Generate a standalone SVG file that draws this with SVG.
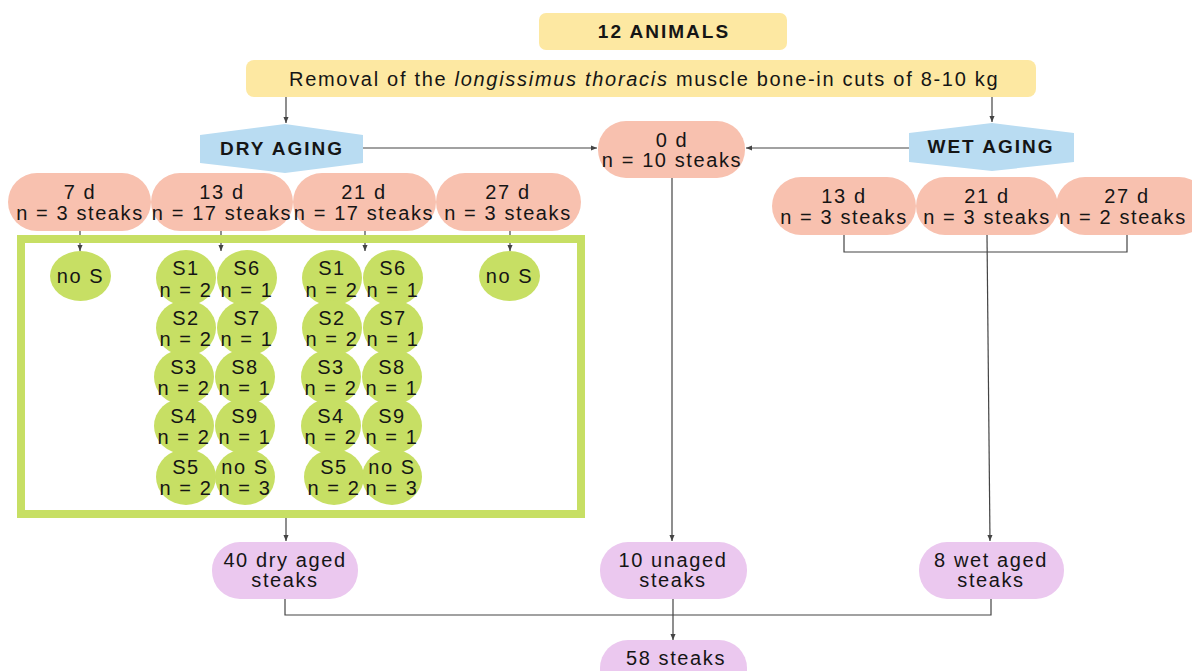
<svg xmlns="http://www.w3.org/2000/svg" width="1192" height="671" viewBox="0 0 1192 671">
<defs>
<marker id="ah" viewBox="0 0 8 8" refX="7" refY="4" markerWidth="7" markerHeight="7" markerUnits="userSpaceOnUse" orient="auto">
<path d="M0,1 L7,4 L0,7 z" fill="#444"/>
</marker>
<style>
text{font-family:"Liberation Sans",Arial,sans-serif;font-size:20px;letter-spacing:1.6px;fill:#151515;text-anchor:middle}
.b{font-weight:bold;letter-spacing:2px;font-size:19px}
.y{fill:#fde8a2}
.p{fill:#f8c1af}
.bl{fill:#b9dcf2}
.g{fill:#c7df64}
.v{fill:#ebc8ef}
.c{fill:none;stroke:#444;stroke-width:1.2}
.a{marker-end:url(#ah)}
</style>
</defs>
<rect width="1192" height="671" fill="#ffffff"/>

<g id="connectors">
<line class="c a" x1="286" y1="96" x2="286" y2="123"/>
<line class="c a" x1="992" y1="96" x2="992" y2="122"/>
<line class="c a" x1="363" y1="148" x2="597" y2="148"/>
<line class="c a" x1="909" y1="148" x2="746" y2="148"/>
<line class="c a" x1="80" y1="231" x2="80" y2="251"/>
<line class="c a" x1="221" y1="231" x2="221" y2="251"/>
<line class="c a" x1="365" y1="231" x2="365" y2="251"/>
<line class="c a" x1="510" y1="231" x2="510" y2="251"/>
<line class="c a" x1="672" y1="178" x2="672" y2="541"/>
<polyline class="c" points="844,235 844,252 1127,252 1127,235"/>
<line class="c a" x1="987" y1="235" x2="990" y2="541"/>
<line class="c a" x1="286" y1="518" x2="286" y2="541"/>
<polyline class="c" points="285,599 285,615 991,615 991,599"/>
<line class="c a" x1="673" y1="599" x2="673" y2="640"/>
</g>

<g id="animals">
<rect class="y" x="539" y="13" width="248" height="37" rx="7"/>
<text class="b" x="664" y="38">12 ANIMALS</text>
</g>

<g id="removal">
<rect class="y" x="246" y="60" width="790" height="37" rx="8"/>
<text x="289" y="86" style="text-anchor:start;letter-spacing:1.7px">Removal of the <tspan font-style="italic">longissimus thoracis</tspan> muscle bone-in cuts of 8-10 kg</text>
</g>

<g id="dry-aging">
<polygon class="bl" points="200,135 285,124 363,135 363,163 285,173 200,163"/>
<text class="b" x="282" y="155">DRY AGING</text>
</g>

<g id="wet-aging">
<polygon class="bl" points="909,133 992,123 1074,133 1074,162 992,171 909,162"/>
<text class="b" x="991" y="153">WET AGING</text>
</g>

<g id="d0">
<rect class="p" x="598" y="121" width="147" height="57" rx="28"/>
<text x="672" y="147">0 d</text>
<text x="672" y="167">n = 10 steaks</text>
</g>

<g id="dry-7d">
<rect class="p" x="8" y="173" width="143" height="58" rx="29"/>
<text x="80" y="199">7 d</text>
<text x="80" y="220">n = 3 steaks</text>
</g>
<g id="dry-13d">
<rect class="p" x="151" y="173" width="142" height="58" rx="29"/>
<text x="222" y="199">13 d</text>
<text x="222" y="220">n = 17 steaks</text>
</g>
<g id="dry-21d">
<rect class="p" x="293" y="173" width="143" height="58" rx="29"/>
<text x="364" y="199">21 d</text>
<text x="364" y="220">n = 17 steaks</text>
</g>
<g id="dry-27d">
<rect class="p" x="436" y="173" width="145" height="58" rx="29"/>
<text x="508" y="199">27 d</text>
<text x="508" y="220">n = 3 steaks</text>
</g>

<g id="wet-13d">
<rect class="p" x="772" y="177" width="144" height="58" rx="29"/>
<text x="844" y="203">13 d</text>
<text x="844" y="224">n = 3 steaks</text>
</g>
<g id="wet-21d">
<rect class="p" x="916" y="177" width="142" height="58" rx="29"/>
<text x="987" y="203">21 d</text>
<text x="987" y="224">n = 3 steaks</text>
</g>
<g id="wet-27d">
<rect class="p" x="1056" y="177" width="152" height="58" rx="29"/>
<text x="1127" y="203">27 d</text>
<text x="1123" y="224">n = 2 steaks</text>
</g>

<g id="dry-frame">
<rect x="21" y="239" width="560" height="275" fill="none" stroke="#c7df64" stroke-width="8"/>
</g>

<g id="d7-noS">
<ellipse class="g" cx="80.5" cy="276" rx="30.5" ry="25"/>
<text x="80.5" y="283">no S</text>
</g>
<g id="d27-noS">
<ellipse class="g" cx="509.5" cy="276" rx="30.5" ry="25"/>
<text x="509.5" y="283">no S</text>
</g>

<g id="d13-S1"><ellipse class="g" cx="186" cy="278" rx="30" ry="28"/><text x="186" y="275">S1</text><text x="186" y="297">n = 2</text></g>
<g id="d13-S2"><ellipse class="g" cx="186" cy="328" rx="30" ry="28"/><text x="186" y="325">S2</text><text x="186" y="346">n = 2</text></g>
<g id="d13-S3"><ellipse class="g" cx="184" cy="377" rx="30" ry="28"/><text x="184" y="374">S3</text><text x="184" y="395">n = 2</text></g>
<g id="d13-S4"><ellipse class="g" cx="184" cy="426" rx="30" ry="28"/><text x="184" y="423">S4</text><text x="184" y="444">n = 2</text></g>
<g id="d13-S5"><ellipse class="g" cx="186" cy="477" rx="30" ry="28"/><text x="186" y="474">S5</text><text x="186" y="495">n = 2</text></g>
<g id="d13-S6"><ellipse class="g" cx="247" cy="278" rx="30" ry="28"/><text x="247" y="275">S6</text><text x="247" y="297">n = 1</text></g>
<g id="d13-S7"><ellipse class="g" cx="247" cy="328" rx="30" ry="28"/><text x="247" y="325">S7</text><text x="247" y="346">n = 1</text></g>
<g id="d13-S8"><ellipse class="g" cx="245" cy="377" rx="30" ry="28"/><text x="245" y="374">S8</text><text x="245" y="395">n = 1</text></g>
<g id="d13-S9"><ellipse class="g" cx="245" cy="426" rx="30" ry="28"/><text x="245" y="423">S9</text><text x="245" y="444">n = 1</text></g>
<g id="d13-noS"><ellipse class="g" cx="245" cy="477" rx="30" ry="28"/><text x="245" y="474">no S</text><text x="245" y="495">n = 3</text></g>

<g id="d21-S1"><ellipse class="g" cx="332" cy="278" rx="30" ry="28"/><text x="332" y="275">S1</text><text x="332" y="297">n = 2</text></g>
<g id="d21-S2"><ellipse class="g" cx="332" cy="328" rx="30" ry="28"/><text x="332" y="325">S2</text><text x="332" y="346">n = 2</text></g>
<g id="d21-S3"><ellipse class="g" cx="331" cy="377" rx="30" ry="28"/><text x="331" y="374">S3</text><text x="331" y="395">n = 2</text></g>
<g id="d21-S4"><ellipse class="g" cx="331" cy="426" rx="30" ry="28"/><text x="331" y="423">S4</text><text x="331" y="444">n = 2</text></g>
<g id="d21-S5"><ellipse class="g" cx="334" cy="477" rx="30" ry="28"/><text x="334" y="474">S5</text><text x="334" y="495">n = 2</text></g>
<g id="d21-S6"><ellipse class="g" cx="393" cy="278" rx="30" ry="28"/><text x="393" y="275">S6</text><text x="393" y="297">n = 1</text></g>
<g id="d21-S7"><ellipse class="g" cx="393" cy="328" rx="30" ry="28"/><text x="393" y="325">S7</text><text x="393" y="346">n = 1</text></g>
<g id="d21-S8"><ellipse class="g" cx="392" cy="377" rx="30" ry="28"/><text x="392" y="374">S8</text><text x="392" y="395">n = 1</text></g>
<g id="d21-S9"><ellipse class="g" cx="392" cy="426" rx="30" ry="28"/><text x="392" y="423">S9</text><text x="392" y="444">n = 1</text></g>
<g id="d21-noS"><ellipse class="g" cx="392" cy="477" rx="30" ry="28"/><text x="392" y="474">no S</text><text x="392" y="495">n = 3</text></g>

<g id="dry-aged">
<rect class="v" x="212" y="542" width="146" height="57" rx="28"/>
<text x="285" y="567">40 dry aged</text>
<text x="285" y="587">steaks</text>
</g>
<g id="unaged">
<rect class="v" x="600" y="542" width="147" height="57" rx="28"/>
<text x="673" y="567">10 unaged</text>
<text x="673" y="587">steaks</text>
</g>
<g id="wet-aged">
<rect class="v" x="919" y="542" width="145" height="57" rx="28"/>
<text x="991" y="567">8 wet aged</text>
<text x="991" y="587">steaks</text>
</g>
<g id="total">
<rect class="v" x="600" y="640" width="147" height="57" rx="28"/>
<text x="676" y="665">58 steaks</text>
</g>
</svg>
